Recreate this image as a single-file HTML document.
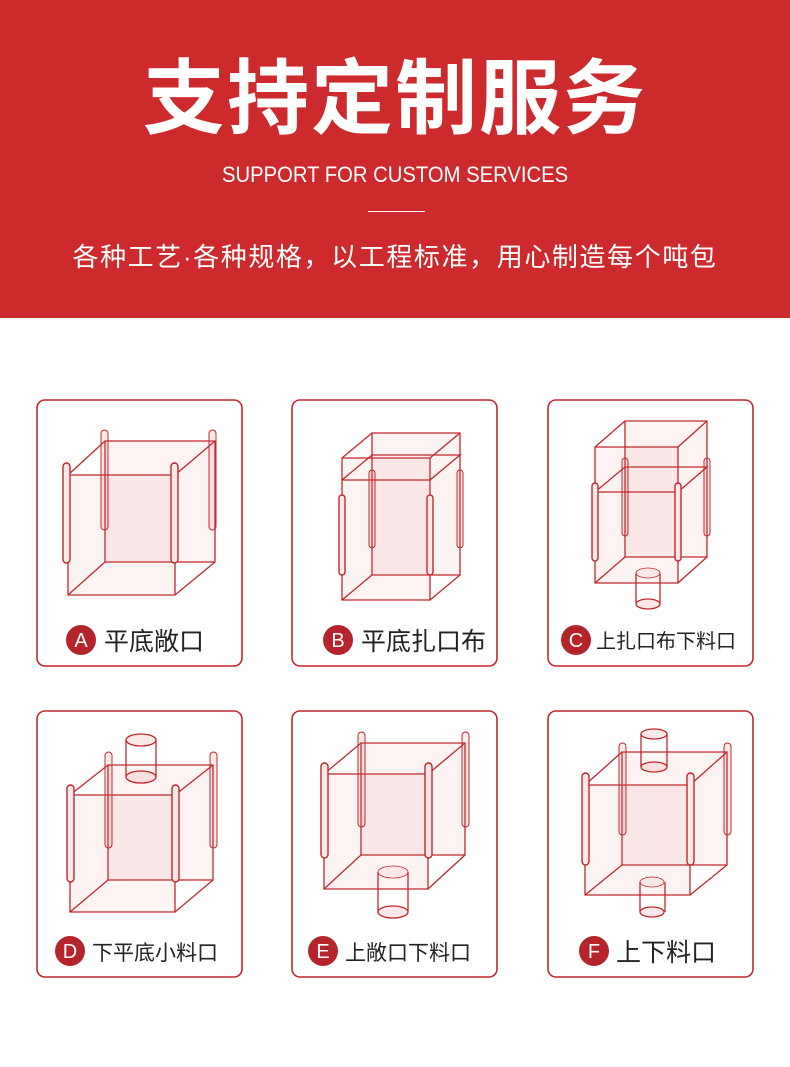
<!DOCTYPE html>
<html><head><meta charset="utf-8"><style>
html,body{margin:0;padding:0;background:#fff;width:790px;height:1067px;overflow:hidden}
.hd{position:absolute;left:0;top:0;width:790px;height:318px;background:#cd2a2d;color:#fff;text-align:center;font-family:"Liberation Sans","Noto Sans CJK SC",sans-serif}
.t1{position:absolute;left:0;width:790px;top:50px;font-size:82px;font-weight:bold;line-height:100px;letter-spacing:2px}
.t2{position:absolute;left:0;width:790px;top:162px;font-size:22px;line-height:26px}
.t2 span{display:inline-block;transform:scaleX(0.92)}
.ln{position:absolute;left:368px;top:211px;width:57px;height:1px;background:#fff}
.t3{position:absolute;left:0;width:790px;top:240px;font-size:26px;line-height:34px;letter-spacing:1.6px}
svg{position:absolute;left:0;top:0}
</style></head><body>
<div class="hd"><div class="t1">支持定制服务</div><div class="t2"><span>SUPPORT FOR CUSTOM SERVICES</span></div><div class="ln"></div><div class="t3">各种工艺·各种规格，以工程标准，用心制造每个吨包</div></div>
<svg width="790" height="1067" viewBox="0 0 790 1067" font-family="Liberation Sans,Noto Sans CJK SC,sans-serif">
<g fill="none" stroke="#c0282d" stroke-width="1.6">
<rect x="37" y="400" width="205" height="266" rx="8"/><rect x="292" y="400" width="205" height="266" rx="8"/><rect x="548" y="400" width="205" height="266" rx="8"/>
<rect x="37" y="711" width="205" height="266" rx="8"/><rect x="292" y="711" width="205" height="266" rx="8"/><rect x="548" y="711" width="205" height="266" rx="8"/>
</g>
<g stroke="#c0282d" stroke-width="1.3" fill="rgba(225,80,80,0.07)">
<!-- A -->
<path d="M105 441H215V562H105Z"/><path d="M68 475L105 441M175 475L215 441M68 595L105 562M175 595L215 562" fill="none"/>
<path d="M68 475H175V595H68Z"/>
<g stroke-width="1" fill="rgba(225,80,80,0.12)"><rect x="101" y="430" width="7" height="100" rx="3.5"/><rect x="209" y="430" width="7" height="100" rx="3.5"/></g>
<g stroke-width="1.4" fill="#fbe9e9"><rect x="63" y="463" width="7" height="100" rx="3.5"/><rect x="171" y="463" width="7" height="100" rx="3.5"/></g>
<!-- B -->
<path d="M372 433H460V575H372Z"/><path d="M342 458L372 433M430 458L460 433M342 600L372 575M430 600L460 575M342 480L372 455H460L430 480" fill="none"/>
<path d="M342 458H430V600H342Z"/><path d="M342 480H430" fill="none"/>
<g stroke-width="1" fill="rgba(225,80,80,0.12)"><rect x="369" y="470" width="6" height="78" rx="3"/><rect x="457" y="470" width="6" height="78" rx="3"/></g>
<g stroke-width="1.4" fill="#fbe9e9"><rect x="339" y="495" width="6" height="80" rx="3"/><rect x="427" y="495" width="6" height="80" rx="3"/></g>
<!-- C -->
<path d="M625 421H707V557H625Z"/><path d="M595 447L625 421M678 447L707 421M595 583L625 557M678 583L707 557M595 492L625 467H707L678 492" fill="none"/>
<path d="M595 447H678V583H595Z"/><path d="M595 492H678" fill="none"/>
<g stroke-width="1" fill="rgba(225,80,80,0.12)"><rect x="622" y="458" width="6" height="78" rx="3"/><rect x="704" y="458" width="6" height="78" rx="3"/></g>
<g stroke-width="1.4" fill="#fbe9e9"><rect x="592" y="483" width="6" height="78" rx="3"/><rect x="675" y="483" width="6" height="78" rx="3"/></g>
<path d="M636 573V604M660 573V604" fill="none"/><ellipse cx="648" cy="573" rx="12" ry="5" stroke-width="0.8"/><ellipse cx="648" cy="604" rx="12" ry="5" fill="#fbe9e9"/>
<!-- D -->
<path d="M108 765H213V880H108Z"/><path d="M70 795L108 765M175 795L213 765M70 912L108 880M175 912L213 880" fill="none"/>
<path d="M70 795H175V912H70Z"/>
<path d="M126 740V777M156 740V777" fill="none"/><ellipse cx="141" cy="777" rx="15" ry="6" fill="rgba(225,80,80,0.12)"/><ellipse cx="141" cy="740" rx="15" ry="6" fill="#fbe9e9"/>
<g stroke-width="1" fill="rgba(225,80,80,0.12)"><rect x="105" y="752" width="7" height="96" rx="3.5"/><rect x="210" y="752" width="7" height="96" rx="3.5"/></g>
<g stroke-width="1.4" fill="#fbe9e9"><rect x="67" y="785" width="7" height="97" rx="3.5"/><rect x="172" y="785" width="7" height="97" rx="3.5"/></g>
<!-- E -->
<path d="M361 743H465V855H361Z"/><path d="M324 774L361 743M428 774L465 743M324 889L361 855M428 889L465 855" fill="none"/>
<path d="M324 774H428V889H324Z"/>
<path d="M378 872V912M408 872V912" fill="none"/><ellipse cx="393" cy="872" rx="15" ry="6" stroke-width="0.8"/><ellipse cx="393" cy="912" rx="15" ry="6" fill="#fbe9e9"/>
<g stroke-width="1" fill="rgba(225,80,80,0.12)"><rect x="358" y="732" width="7" height="95" rx="3.5"/><rect x="462" y="732" width="7" height="95" rx="3.5"/></g>
<g stroke-width="1.4" fill="#fbe9e9"><rect x="321" y="763" width="7" height="95" rx="3.5"/><rect x="425" y="763" width="7" height="95" rx="3.5"/></g>
<!-- F -->
<path d="M622 752H727V865H622Z"/><path d="M585 785L622 752M690 785L727 752M585 895L622 865M690 895L727 865" fill="none"/>
<path d="M641 734V767M667 734V767" fill="none"/><ellipse cx="654" cy="767" rx="13" ry="5" fill="rgba(225,80,80,0.12)"/><ellipse cx="654" cy="734" rx="13" ry="5" fill="#fbe9e9"/>
<path d="M585 785H690V895H585Z"/>
<path d="M640 882V912M665 882V912" fill="none"/><ellipse cx="652" cy="882" rx="12" ry="5" stroke-width="0.8"/><ellipse cx="652" cy="912" rx="12" ry="5" fill="#fbe9e9"/>
<g stroke-width="1" fill="rgba(225,80,80,0.12)"><rect x="619" y="743" width="7" height="92" rx="3.5"/><rect x="724" y="743" width="7" height="92" rx="3.5"/></g>
<g stroke-width="1.4" fill="#fbe9e9"><rect x="582" y="773" width="7" height="92" rx="3.5"/><rect x="687" y="773" width="7" height="92" rx="3.5"/></g>
</g>
<g fill="#b5242a"><circle cx="81" cy="640" r="15"/><circle cx="338" cy="640" r="15"/><circle cx="576" cy="640" r="15"/><circle cx="70" cy="951" r="15"/><circle cx="323" cy="951" r="15"/><circle cx="594" cy="951" r="15"/></g>
<g fill="#fff" font-size="20" text-anchor="middle"><text x="81" y="647">A</text><text x="338" y="647">B</text><text x="576" y="647">C</text><text x="70" y="958">D</text><text x="323" y="958">E</text><text x="594" y="958">F</text></g>
<g fill="#222"><text x="104" y="650" font-size="25">平底敞口</text><text x="361" y="650" font-size="25">平底扎口布</text><text x="596" y="648" font-size="20">上扎口布下料口</text>
<text x="92" y="960" font-size="21">下平底小料口</text><text x="345" y="960" font-size="21">上敞口下料口</text><text x="616" y="961" font-size="25">上下料口</text></g>
</svg>
</body></html>
